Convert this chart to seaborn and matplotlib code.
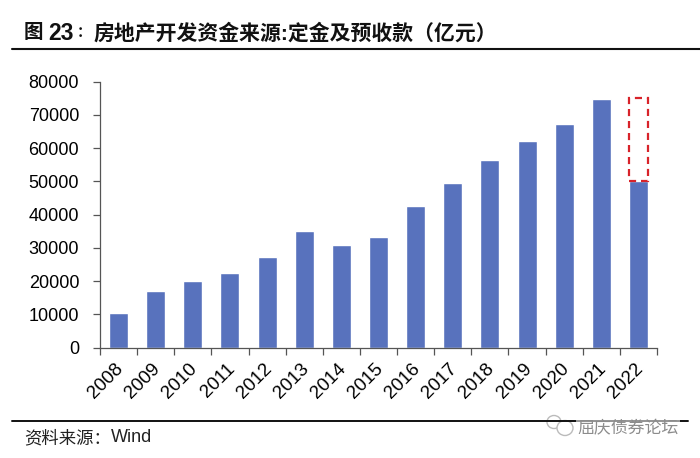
import matplotlib
matplotlib.use('Agg')
import matplotlib.pyplot as plt
from matplotlib.lines import Line2D
from matplotlib.patches import Ellipse
from matplotlib.transforms import ScaledTranslation
import numpy as np
import pandas as pd
import seaborn as sns

years = ['2008', '2009', '2010', '2011', '2012', '2013', '2014', '2015',
         '2016', '2017', '2018', '2019', '2020', '2021', '2022']
values = [10300, 16900, 20000, 22300, 27200, 35200, 31000, 33200,
          42600, 49500, 56400, 62100, 67300, 74700, 50000]
# 2022 虚线框: 上一年水平
box_year = 14
box_bottom = 50000
box_top = 75200
yticks = [0, 10000, 20000, 30000, 40000, 50000, 60000, 70000, 80000]

title_cn = '房地产开发资金来源:定金及预收款（亿元）'
source_cn = '资料来源：'
watermark = '屈庆债券论坛'

sns.set_theme(style='white')
plt.rcParams['font.family'] = ['Liberation Sans', 'Noto Sans CJK SC', 'DejaVu Sans']

W, H = 700, 458
fig = plt.figure(figsize=(7, 4.58), dpi=100)
ax = fig.add_axes([100 / W, 1 - 347.5 / H, 557 / W, 265.8 / H])

df = pd.DataFrame({'year': years, 'value': values})
sns.barplot(data=df, x='year', y='value', color='#5872BD', saturation=1,
            width=0.51, ax=ax)
ax.bar([box_year], [box_top - box_bottom], bottom=[box_bottom], width=0.51,
       fill=False, edgecolor='#D8232A', linewidth=1.6, linestyle=(0, (3.2, 2.2)))

ax.set_xlim(-0.5, len(years) - 0.5)
ax.set_ylim(0, 80000)
ax.set_xlabel('')
ax.set_ylabel('')
ax.set_yticks(yticks)
ax.tick_params(axis='y', labelsize=13, length=5, width=0.9, color='#555555',
               labelcolor='black', pad=10, left=True)

# 刻度在柱子之间, 标签在柱子中心
ax.set_xticks(np.arange(len(years) + 1) - 0.5)
ax.set_xticklabels([])
ax.tick_params(axis='x', which='major', length=5, width=0.9, color='#555555', bottom=True)
ax.set_xticks(np.arange(len(years)), minor=True)
ax.set_xticklabels(years, minor=True, rotation=45, ha='right', va='top',
                   rotation_mode='anchor', fontsize=13.5, color='black')
ax.tick_params(axis='x', which='minor', length=0, pad=9)
for lab in ax.get_xticklabels(minor=True):
    lab.set_transform(lab.get_transform() + ScaledTranslation(-4 / 100, 0, fig.dpi_scale_trans))

sns.despine(ax=ax)
ax.spines['left'].set_color('#555555')
ax.spines['bottom'].set_color('#555555')
ax.spines['left'].set_linewidth(0.9)
ax.spines['bottom'].set_linewidth(0.9)

# 标题和来源
fig.text(24 / W, 1 - 33 / H, '图', fontsize=14, color='#111111', va='center', fontweight='bold')
fig.text(48 / W, 1 - 33 / H, '23', fontsize=16.5, color='#111111', va='center', fontweight='bold')
fig.text(77 / W, 1 - 33 / H, '：', fontsize=10.5, color='#111111', va='center', fontweight='bold')
fig.text(93 / W, 1 - 33 / H, title_cn, fontsize=15, color='#111111', va='center', fontweight='bold')
fig.add_artist(Line2D([12 / W, 1], [1 - 48.5 / H] * 2, color='#111111', lw=1.5))
fig.add_artist(Line2D([12 / W, 688 / W], [1 - 421 / H] * 2, color='#111111', lw=1.4))
fig.text(24 / W, 1 - 438 / H, source_cn, fontsize=12.5, color='#222222', va='center')
fig.text(111 / W, 1 - 438 / H, 'Wind', fontsize=13, color='#222222', va='center')

# 水印
fig.patches.append(Ellipse((554 / W, 1 - 422 / H), 14 / W, 13 / H, transform=fig.transFigure,
                           fill=True, facecolor='white', edgecolor='#BBBBBB', lw=1.0))
fig.patches.append(Ellipse((565 / W, 1 - 428 / H), 16 / W, 15 / H, transform=fig.transFigure,
                           fill=True, facecolor='white', edgecolor='#BBBBBB', lw=1.0))
fig.text(577 / W, 1 - 428 / H, watermark, fontsize=12.2, color='#8C8C8C', va='center',
         bbox=dict(facecolor='white', edgecolor='none', alpha=0.55, pad=1))

fig.savefig('out.png', dpi=100, facecolor='white')
